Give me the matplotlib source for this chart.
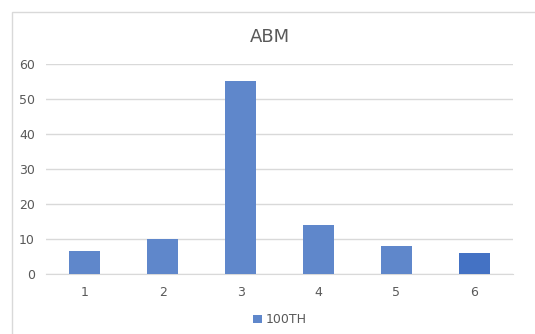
import matplotlib.pyplot as plt
from matplotlib.patches import Rectangle

categories = ["1", "2", "3", "4", "5", "6"]
values = [6.5, 10, 55, 14, 8, 6]
series_name = "100TH"
title = "ABM"
y_ticks = [0, 10, 20, 30, 40, 50, 60]

bar_colors = ["#5F87CB"] * 5 + ["#4472C4"]
text_color = "#595959"
grid_color = "#D9D9D9"

fig = plt.figure(figsize=(5.35, 3.34), dpi=100)
fig.patch.set_facecolor("white")

# chart area border
fig.patches.append(Rectangle((12 / 535, -0.1), 1.2, 1 - 12 / 334 + 0.1,
                             transform=fig.transFigure, fill=False,
                             edgecolor="#D9D9D9", linewidth=1))

ax = fig.add_axes([0.086, 0.18, 0.873, 0.629])
x = range(len(categories))
ax.bar(x, values, width=0.4, color=bar_colors, label=series_name, zorder=3)

ax.set_xlim(-0.5, len(categories) - 0.5)
ax.set_ylim(0, 60)
ax.set_yticks(y_ticks)
ax.set_xticks(list(x))
ax.set_xticklabels(categories)
ax.grid(axis="y", color=grid_color, linewidth=1, zorder=0)

for side in ["top", "right", "left"]:
    ax.spines[side].set_visible(False)
ax.spines["bottom"].set_color(grid_color)
ax.tick_params(axis="both", length=0, colors=text_color, labelsize=9)
ax.tick_params(axis="x", pad=9)
ax.tick_params(axis="y", pad=8)

fig.text(0.505, 0.89, title, ha="center", va="center", fontsize=13, color=text_color)

ax.legend(loc="upper center", bbox_to_anchor=(0.5, -0.135), frameon=False,
          fontsize=9, labelcolor=text_color, handlelength=0.7, handleheight=0.7,
          handletextpad=0.3)

fig.savefig("out.png", dpi=100)
